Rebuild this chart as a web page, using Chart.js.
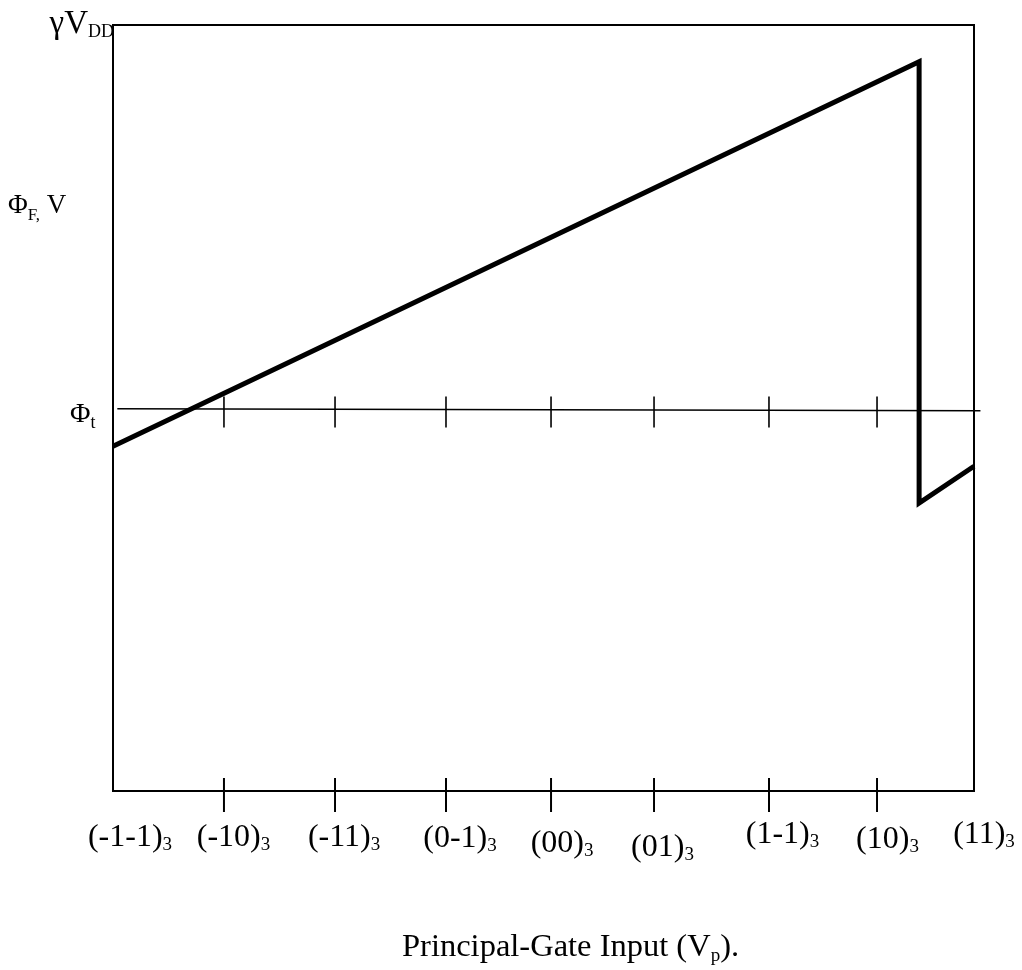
<!DOCTYPE html>
<html>
<head>
<meta charset="utf-8">
<script src="https://cdn.jsdelivr.net/npm/chart.js@4/dist/chart.umd.min.js"></script>
<style>
  html, body { margin: 0; padding: 0; background: #fff; }
  #wrap { width: 1022px; height: 970px; }
</style>
</head>
<body>
<div id="wrap"><canvas id="chart" width="1022" height="970"></canvas></div>
<script>
// ternary input codes along the x axis (subscript base 3)
const tickLabels = ["(-1-1)", "(-10)", "(-11)", "(0-1)", "(00)", "(01)", "(1-1)", "(10)", "(11)"];
const tickBase = "3";
// where each code sits on the x axis (hand-drawn, not perfectly even)
const tickAt = [0, 1.031, 2.063, 3.094, 4.07, 5.027, 6.095, 7.099, 8];

// floating-gate potential, arbitrary units (0..100, top = gamma*VDD)
const curveX = [0, 7.49, 7.49, 8];
const curveY = [45.0, 95.2, 37.6, 42.4];

// threshold line Phi_t
const thresholdX = [0.04, 8.06];
const thresholdY = [49.9, 49.65];
const thresholdLevel = 49.8;
const topLevel = 100;

const SERIF = '"Liberation Serif", "Times New Roman", serif';

// draws main text followed by a lowered subscript, returns end x
const drawSub = (ctx, parts, x, baseline) => {
  let cx = x;
  parts.forEach(([text, size, drop]) => {
    ctx.font = `${size}px ${SERIF}`;
    ctx.fillText(text, cx, baseline + drop);
    cx += ctx.measureText(text).width;
  });
  return cx;
};

const measureSub = (ctx, parts) =>
  parts.reduce((w, [text, size]) => {
    ctx.font = `${size}px ${SERIF}`;
    return w + ctx.measureText(text).width;
  }, 0);

// small per-label nudges to follow the hand placement of the original
const labelDx = [17, 9.5, 9, 14, 11, 8.5, 13.5, 10.5, 10];
const labelDy = [55, 55, 55, 56, 61, 65, 52, 57, 52];

const sketchPlugin = {
  id: "sketch",
  afterDatasetsDraw(chart) {
    const { ctx, chartArea, scales } = chart;
    const { left, top, right, bottom } = chartArea;
    const x = scales.x;
    const y = scales.y;

    ctx.save();
    ctx.strokeStyle = "#000";
    ctx.fillStyle = "#000";

    // frame
    ctx.lineWidth = 2;
    ctx.strokeRect(left, top, right - left, bottom - top);

    // ticks crossing the bottom axis
    tickAt.slice(1, -1).forEach((v) => {
      const px = x.getPixelForValue(v);
      ctx.beginPath();
      ctx.moveTo(px, bottom - 13);
      ctx.lineTo(px, bottom + 21);
      ctx.stroke();
    });

    // ticks crossing the threshold line
    ctx.lineWidth = 1.6;
    const ty = y.getPixelForValue(thresholdLevel);
    tickAt.slice(1, -1).forEach((v) => {
      const px = x.getPixelForValue(v);
      ctx.beginPath();
      ctx.moveTo(px, ty - 13);
      ctx.lineTo(px, ty + 18);
      ctx.stroke();
    });

    // x tick labels with subscript 3
    ctx.textBaseline = "alphabetic";
    ctx.textAlign = "left";
    tickLabels.forEach((label, i) => {
      const parts = [[label, 32, 0], [tickBase, 19, 4]];
      const w = measureSub(ctx, parts);
      const cx = x.getPixelForValue(tickAt[i]) + labelDx[i];
      drawSub(ctx, parts, cx - w / 2, bottom + labelDy[i]);
    });

    // y side labels
    const topParts = [["\u03B3V", 33, 0], ["DD", 18, 4]];
    drawSub(ctx, topParts, left + 1 - measureSub(ctx, topParts), y.getPixelForValue(topLevel) + 8);
    drawSub(ctx, [["\u03A6", 27, 0], ["F,", 17, 7], [" V", 27, 0]], 8, top + 188);
    drawSub(ctx, [["\u03A6", 28, 0], ["t", 18, 6]], 70, ty + 12);

    // x axis title
    drawSub(ctx, [["Principal-Gate Input (V", 32.5, 0], ["p", 19, 5], [").", 32.5, 0]], 402, 956);

    ctx.restore();
  },
};

new Chart(document.getElementById("chart"), {
  type: "line",
  data: {
    datasets: [
      {
        label: "Phi_t",
        data: thresholdX.map((v, i) => ({ x: v, y: thresholdY[i] })),
        borderColor: "#000",
        borderWidth: 1.6,
        pointRadius: 0,
        clip: false,
        order: 2,
      },
      {
        label: "Phi_F",
        data: curveX.map((v, i) => ({ x: v, y: curveY[i] })),
        borderColor: "#000",
        borderWidth: 5,
        borderJoinStyle: "miter",
        borderCapStyle: "butt",
        pointRadius: 0,
        tension: 0,
        clip: 4,
        order: 1,
      },
    ],
  },
  options: {
    responsive: false,
    animation: false,
    events: [],
    layout: { padding: { left: 113, top: 25, right: 48, bottom: 179 } },
    plugins: { legend: { display: false }, tooltip: { enabled: false } },
    scales: {
      x: { type: "linear", min: 0, max: 8, display: false },
      y: { type: "linear", min: 0, max: 100, display: false },
    },
  },
  plugins: [sketchPlugin],
});
</script>
</body>
</html>
